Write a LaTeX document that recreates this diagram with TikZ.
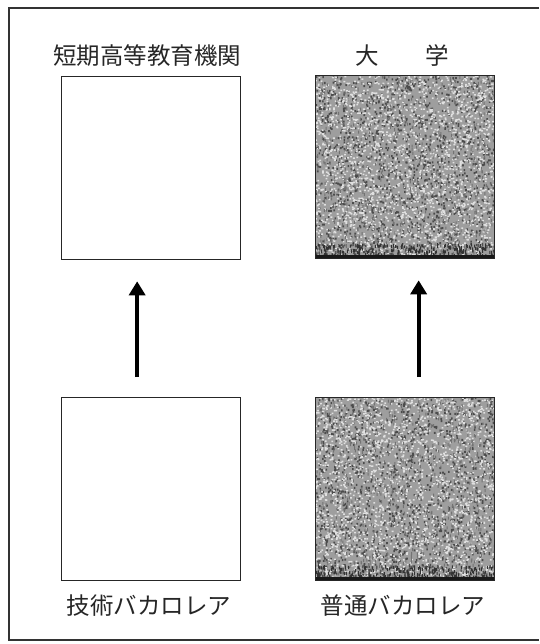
\documentclass[tikz,border=0pt]{standalone}
\usepackage{fontspec}
\newfontfamily\jp{Noto Sans CJK JP}
\usetikzlibrary{arrows.meta}
\begin{document}
\begin{tikzpicture}[x=1pt,y=-1pt,
  boxnode/.style={draw=black!85,line width=1.3pt,inner sep=0pt,minimum width=179pt,minimum height=183pt},
  lbl/.style={font=\jp\fontsize{23.5}{26}\selectfont,text=black!85,inner sep=0pt},
  uparrow/.style={line width=4pt,black,-{Triangle[width=16pt,length=14pt]}},
  speckdark/.style={black!70},
  specklight/.style={black!12}]
\useasboundingbox (0,0) rectangle (539,644);
% outer frame (right side lies outside the picture)
\draw[line width=1.3pt,black!80] (539,8) -- (9,8) -- (9,640) -- (539,640);
% textured fills for the two shaded boxes
\foreach \bx/\by in {315/75, 315/397}{
  \begin{scope}
    \clip (\bx,\by) rectangle ++(179,183);
    \fill[black!38] (\bx,\by) rectangle ++(179,183);
    \pgfmathsetseed{\bx+\by}
    \fill[speckdark] foreach \i in {1,...,1500} { ({\bx+179*rnd},{\by+183*rnd}) rectangle ++(1.6,2.0) };
    \fill[specklight] foreach \i in {1,...,2200} { ({\bx+179*rnd},{\by+183*rnd}) rectangle ++(1.8,1.5) };
    \fill[black!55] foreach \i in {1,...,600} { ({\bx+179*rnd},{\by+183*rnd}) rectangle ++(1.0,3) };
    \fill[black!80] foreach \i in {1,...,350} { ({\bx+179*rnd},{\by+168+15*rnd}) rectangle ++(1.0,3) };
    \fill[black!90] (\bx,\by+180) rectangle ++(179,3);
  \end{scope}
}
% boxes
\node[boxnode,anchor=north west] (tl) at (61,76) {};
\node[boxnode,anchor=north west] (tr) at (315,75) {};
\node[boxnode,anchor=north west] (bl) at (61,397) {};
\node[boxnode,anchor=north west] (br) at (315,397) {};
% labels
\node[lbl] (tll) at (147,56) {短期高等教育機関};
\node[lbl] (trl) at (402,56) {大　　学};
\node[lbl] (bll) at (149,606) {技術バカロレア};
\node[lbl] (brl) at (403,606) {普通バカロレア};
% arrows
\draw[uparrow,shorten <=20pt,shorten >=21pt] ([xshift=-14pt]bl.north) -- ([xshift=-14pt]tl.south);
\draw[uparrow,shorten <=20pt,shorten >=21pt] ([xshift=13.5pt]br.north) -- ([xshift=13.5pt]tr.south);
\end{tikzpicture}
\end{document}
